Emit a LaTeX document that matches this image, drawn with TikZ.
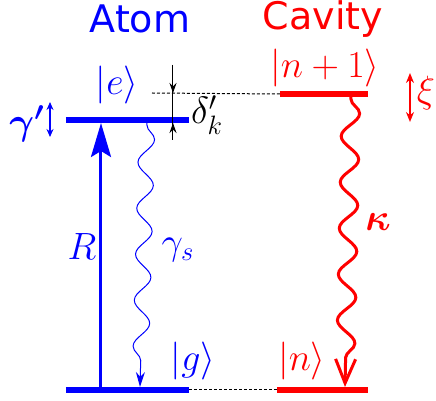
\RequirePackage{fix-cm}
\documentclass[tikz,border=0pt]{standalone}
\usepackage{fontspec}
\usepackage{amsmath,amssymb,bm}
\newfontfamily\titlefont{DejaVu Sans}
\usepackage{tikz}
\usetikzlibrary{arrows.meta}
\usetikzlibrary{decorations.pathmorphing, positioning}

\tikzset{
    level/.style = {line width=3pt, line cap=butt},
    guide/.style = {black, line width=0.5pt, dash pattern=on 1.5pt off 1pt},
    lbl/.style = {font=\fontsize{19}{23}\selectfont, inner sep=0pt},
    ttl/.style = {font=\titlefont\fontsize{19}{23}\selectfont, inner sep=0pt},
    photon/.style = {decorate, decoration={snake, amplitude=#1, segment length=23pt,
        pre length=1pt, post length=8pt}},
}

\begin{document}
\begin{tikzpicture}[x=0.5pt, y=-0.5pt]
        \useasboundingbox (0,0) rectangle (436,401);

        % energy levels
        \coordinate (eL) at (66,120);  \coordinate (eR) at (189,120);
        \coordinate (gL) at (66,390);  \coordinate (gR) at (189,390);
        \coordinate (n1L) at (280,94); \coordinate (n1R) at (368,94);
        \coordinate (nL) at (277,390); \coordinate (nR) at (368,390);

        \draw[level, blue] (eL) -- (eR);
        \draw[level, blue] (gL) -- (gR);
        \draw[level, red] (n1L) -- (n1R);
        \draw[level, red] (nL) -- (nR);

        % reference lines
        \coordinate (ref) at (152,93);
        \draw[guide] (ref) -- (n1L);
        \draw[guide] (gR) -- (nL);

        % detuning
        \coordinate (dtop) at (173,65);
        \coordinate (dmid) at (173,93);
        \coordinate (dlow) at (173,123);
        \coordinate (dbot) at (173,140);
        \draw[black, line width=0.5pt] (dtop) -- (dbot);
        \draw[black, line width=0.5pt, -{Stealth[length=5pt, width=3.5pt]}] (dtop) -- (dmid);
        \draw[black, line width=0.5pt, -{Stealth[length=5pt, width=3.5pt]}] (dbot) -- (dlow);

        % pump
        \coordinate (Rbot) at (101,390);
        \coordinate (Rtop) at (101,123);
        \draw[blue, line width=1.5pt, -{Stealth[length=17pt, width=10pt, inset=3pt]}] (Rbot) -- (Rtop);

        % spontaneous emission
        \coordinate (gs1) at (147,123);
        \coordinate (gs2) at (140,387);
        \draw[blue, line width=0.5pt, photon=4pt, -{Stealth[length=7.5pt, width=4.5pt]}] (gs1) -- (gs2);

        % cavity decay
        \coordinate (k1) at (351,97);
        \coordinate (k2) at (345,387);
        \draw[red, line width=1.5pt, photon=4.5pt, -{Straight Barb[length=12pt, width=10pt]}] (k1) -- (k2);

        % linewidths
        \coordinate (gp1) at (50,102); \coordinate (gp2) at (50,137);
        \draw[blue, line width=0.75pt, {Stealth[length=4pt, width=3.5pt]}-{Stealth[length=4pt, width=3.5pt]}] (gp1) -- (gp2);
        \coordinate (xi1) at (410,73); \coordinate (xi2) at (410,122);
        \draw[red, line width=0.75pt, {Stealth[length=5pt, width=4pt]}-{Stealth[length=5pt, width=4pt]}] (xi1) -- (xi2);

        % labels
        \node[ttl, blue] (atom) at (140,19) {Atom};
        \node[ttl, red] (cavity) at (323,19) {Cavity};
        \node[lbl, blue] (e) at (117,85) {$|e\rangle$};
        \node[lbl, blue] (g) at (193,361) {$|g\rangle$};
        \node[lbl, red] (n1) at (325,68) {$|n+1\rangle$};
        \node[lbl, red] (n) at (302,361) {$|n\rangle$};
        \node[lbl, black] (delta) at (207,115) {$\delta'_k$};
        \node[lbl, blue] (gprime) at (27,124) {$\boldsymbol{\gamma'}$};
        \node[lbl, blue] (R) at (82,247) {$R$};
        \node[lbl, blue] (gams) at (178,250) {$\gamma_s$};
        \node[lbl, red] (kap) at (378,222) {$\boldsymbol{\kappa}$};
        \node[lbl, red] (xi) at (426,93) {$\xi$};
    \end{tikzpicture}
\end{document}
